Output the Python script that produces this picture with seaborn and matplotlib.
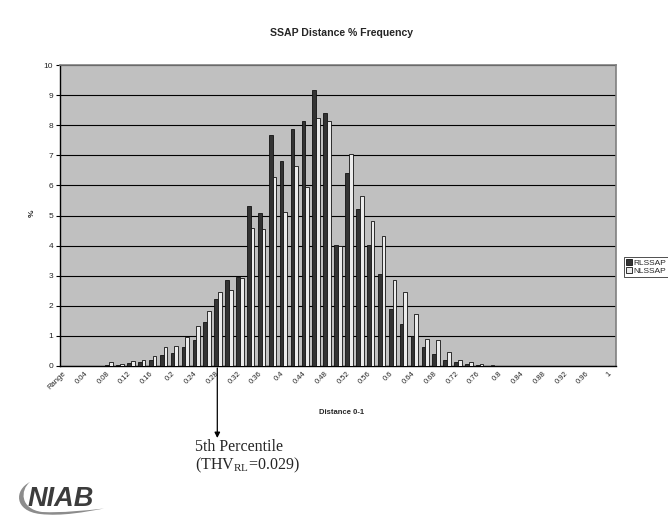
import numpy as np
import pandas as pd
import matplotlib
matplotlib.use("Agg")
import matplotlib.pyplot as plt
from matplotlib.path import Path
from matplotlib.patches import PathPatch
import seaborn as sns

# Distance classes (0-1 in steps of 0.02, first class is the "Range" header)
categories = ["Range", "0.02", "0.04", "0.06", "0.08", "0.1", "0.12", "0.14", "0.16", "0.18",
              "0.2", "0.22", "0.24", "0.26", "0.28", "0.3", "0.32", "0.34", "0.36", "0.38",
              "0.4", "0.42", "0.44", "0.46", "0.48", "0.5", "0.52", "0.54", "0.56", "0.58",
              "0.6", "0.62", "0.64", "0.66", "0.68", "0.7", "0.72", "0.74", "0.76", "0.78",
              "0.8", "0.82", "0.84", "0.86", "0.88", "0.9", "0.92", "0.94", "0.96", "0.98", "1"]

# % frequency per distance class
rlssap = [0, 0, 0, 0, 0.03, 0.02, 0.10, 0.14, 0.20, 0.37,
          0.43, 0.63, 0.87, 1.46, 2.24, 2.86, 2.97, 5.32, 5.09, 7.68,
          6.81, 7.89, 8.14, 9.18, 8.41, 4.02, 6.40, 5.22, 4.02, 3.05,
          1.90, 1.39, 1.00, 0.63, 0.41, 0.20, 0.14, 0.07, 0.03, 0.0,
          0, 0, 0, 0, 0, 0, 0, 0, 0, 0, 0]
nlssap = [0, 0, 0, 0, 0.12, 0.07, 0.17, 0.19, 0.32, 0.62,
          0.68, 0.97, 1.33, 1.83, 2.45, 2.51, 2.93, 4.59, 4.54, 6.28,
          5.12, 6.65, 5.94, 8.24, 8.14, 3.98, 7.05, 5.65, 4.81, 4.31,
          2.85, 2.45, 1.74, 0.91, 0.88, 0.48, 0.19, 0.13, 0.05, 0.02,
          0, 0, 0, 0, 0, 0, 0, 0, 0, 0, 0]
series_names = ["RLSSAP", "NLSSAP"]
y_ticks = list(range(0, 11))

df = pd.DataFrame({
    "distance": categories * 2,
    "pct": rlssap + nlssap,
    "series": [series_names[0]] * len(categories) + [series_names[1]] * len(categories),
})

sns.set_theme(style="white")
plt.rcParams["font.family"] = ["Liberation Sans", "DejaVu Sans"]
plt.rcParams["mathtext.fontset"] = "custom"
plt.rcParams["mathtext.rm"] = "Liberation Serif"
plt.rcParams["mathtext.it"] = "Liberation Serif:italic"

W, H = 668, 523
fig = plt.figure(figsize=(W / 100, H / 100), dpi=100)
fig.patch.set_facecolor("white")

L, R, T, B = 60, 616, 65, 366
ax = fig.add_axes([L / W, 1 - B / H, (R - L) / W, (B - T) / H])
ax.set_facecolor("#c0c0c0")

sns.barplot(data=df, x="distance", y="pct", hue="series", order=categories,
            hue_order=series_names, palette=["#333333", "#ececec"], saturation=1,
            width=0.68, edgecolor="#111111", linewidth=0.6, errorbar=None, ax=ax,
            zorder=3)

ax.set_ylim(0, 10)
ax.set_xlim(-0.5, len(categories) - 0.5)
ax.set_yticks(y_ticks)
ax.set_yticklabels([str(v) for v in y_ticks], fontsize=6)
ax.yaxis.grid(True, color="black", linewidth=0.8, zorder=1)
ax.set_axisbelow(True)

# labels on every other class (anchored just left of the class centre),
# tick marks on class boundaries
ax.set_xticks(np.arange(0, len(categories), 2) - 0.25)
ax.set_xticklabels(categories[::2], fontsize=5.5, rotation=45, ha="right",
                   va="top", rotation_mode="anchor")
ax.set_xticks(np.arange(-0.5, len(categories), 1), minor=True)
ax.tick_params(axis="x", which="major", length=0, pad=3)
ax.tick_params(axis="x", which="minor", length=3, width=0.8, color="black", direction="out")
ax.tick_params(axis="y", length=3, width=0.8, color="black", direction="out", pad=2, left=True)

for side in ["left", "bottom"]:
    ax.spines[side].set_color("black")
    ax.spines[side].set_linewidth(1.0)
for side in ["top", "right"]:
    ax.spines[side].set_color("#808080")
    ax.spines[side].set_linewidth(1.2)

ax.set_xlabel("")
ax.set_ylabel("")

handles, labels = ax.get_legend_handles_labels()
ax.legend(handles, labels, loc="upper left", bbox_to_anchor=(624 / W, 1 - 257 / H),
          bbox_transform=fig.transFigure, fontsize=6, frameon=True, fancybox=False,
          edgecolor="black", borderpad=0.2, handlelength=0.7, handleheight=0.7,
          handletextpad=0.2, labelspacing=0.1, borderaxespad=0)
ax.get_legend().get_frame().set_linewidth(0.6)

# titles and axis captions
fig.text(342 / W, 1 - 33 / H, "SSAP Distance % Frequency", ha="center", va="center",
         fontsize=7.6, fontweight="bold")
fig.text(342 / W, 1 - 412 / H, "Distance 0-1", ha="center", va="center",
         fontsize=5.5, fontweight="bold")
fig.text(32 / W, 1 - 213 / H, "%", ha="center", va="center", rotation=90,
         fontsize=6, fontweight="bold")

# overlay in pixel units for the annotation and logo
ov = fig.add_axes([0, 0, 1, 1], zorder=5)
ov.set_xlim(0, W)
ov.set_ylim(H, 0)
ov.axis("off")

ov.annotate("", xy=(217.3, 438), xytext=(217.3, 368),
            arrowprops=dict(arrowstyle="-|>", color="black", lw=0.9,
                            mutation_scale=8, shrinkA=0, shrinkB=0))
ov.text(195, 439, "5th Percentile\n(THV$_{\\mathrm{RL}}$=0.029)", family="Liberation Serif",
        fontsize=11.5, ha="left", va="top", linespacing=1.05)

# NIAB logo
swoosh = Path(
    [(30, 482), (14, 490), (14, 511), (40, 514),
     (62, 516.5), (85, 512), (104, 508.5),
     (85, 510.5), (62, 513), (42, 512),
     (20, 509), (20, 490), (30, 482)],
    [Path.MOVETO, Path.CURVE4, Path.CURVE4, Path.CURVE4,
     Path.CURVE4, Path.CURVE4, Path.CURVE4,
     Path.CURVE4, Path.CURVE4, Path.CURVE4,
     Path.CURVE4, Path.CURVE4, Path.CURVE4])
ov.add_patch(PathPatch(swoosh, facecolor="#8c8c8c", edgecolor="none"))
ov.text(28, 506.5, "NIAB", fontsize=19.5, fontweight="bold", style="italic",
        color="#3c3c3c", ha="left", va="baseline")

fig.savefig("out.png", dpi=100)
